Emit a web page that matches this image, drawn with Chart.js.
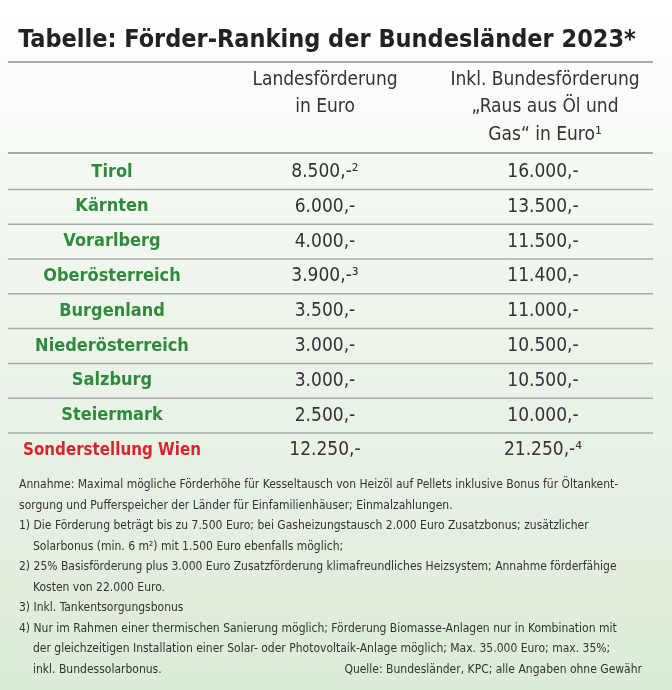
<!DOCTYPE html>
<html>
<head>
<meta charset="utf-8">
<script src="https://cdn.jsdelivr.net/npm/chart.js@4"></script>
<style>
  html, body { margin: 0; padding: 0; }
  body { width: 672px; height: 690px; background: linear-gradient(#ffffff 0%, #f3f8f1 30%, #dcebd8 100%); }
  #wrap { position: relative; width: 672px; height: 690px; }
</style>
</head>
<body>
<div id="wrap"><canvas id="canvas"></canvas></div>
<script>
const title = "Tabelle: Förder-Ranking der Bundesländer 2023*";
const headers1 = ["Landesförderung", "in Euro"];
const headers2 = ["Inkl. Bundesförderung", "\u201eRaus aus Öl und", "Gas\u201c in Euro\u00b9"];
const states = ["Tirol", "Kärnten", "Vorarlberg", "Oberösterreich", "Burgenland", "Niederösterreich", "Salzburg", "Steiermark", "Sonderstellung Wien"];
const landes = ["8.500,-\u00b2", "6.000,-", "4.000,-", "3.900,-\u00b3", "3.500,-", "3.000,-", "3.000,-", "2.500,-", "12.250,-"];
const inklBund = ["16.000,-", "13.500,-", "11.500,-", "11.400,-", "11.000,-", "10.500,-", "10.500,-", "10.000,-", "21.250,-\u2074"];
const notes = [
  ["Annahme: Maximal mögliche Förderhöhe für Kesseltausch von Heizöl auf Pellets inklusive Bonus für Öltankent-", 0],
  ["sorgung und Pufferspeicher der Länder für Einfamilienhäuser; Einmalzahlungen.", 0],
  ["1) Die Förderung beträgt bis zu 7.500 Euro; bei Gasheizungstausch 2.000 Euro Zusatzbonus; zusätzlicher", 0],
  ["Solarbonus (min. 6 m²) mit 1.500 Euro ebenfalls möglich;", 1],
  ["2) 25% Basisförderung plus 3.000 Euro Zusatzförderung klimafreundliches Heizsystem; Annahme förderfähige", 0],
  ["Kosten von 22.000 Euro.", 1],
  ["3) Inkl. Tankentsorgungsbonus", 0],
  ["4) Nur im Rahmen einer thermischen Sanierung möglich; Förderung Biomasse-Anlagen nur in Kombination mit", 0],
  ["der gleichzeitigen Installation einer Solar- oder Photovoltaik-Anlage möglich; Max. 35.000 Euro; max. 35%;", 1],
  ["inkl. Bundessolarbonus.", 1]
];
const source = "Quelle: Bundesländer, KPC; alle Angaben ohne Gewähr";

const NARROW = "'Liberation Sans Narrow', 'DejaVu Sans Condensed', sans-serif";

const tablePlugin = {
  id: 'table',
  afterDraw(chart) {
    const ctx = chart.ctx, x = chart.scales.x, y = chart.scales.y;
    const X = v => x.getPixelForValue(v), Y = v => y.getPixelForValue(v);
    ctx.save();
    ctx.textBaseline = 'middle';
    // title
    ctx.fillStyle = '#222';
    ctx.font = "bold 25px " + NARROW;
    ctx.textAlign = 'center';
    ctx.fillText(title, X(327), Y(40), 620);
    // rules
    const rule = (yy, w) => { ctx.strokeStyle = '#a9aaa9'; ctx.lineWidth = w; ctx.beginPath(); ctx.moveTo(X(8), Y(yy)); ctx.lineTo(X(653), Y(yy)); ctx.stroke(); };
    rule(62, 2);
    rule(153, 2);
    // headers
    ctx.font = "19px " + NARROW;
    ctx.fillStyle = '#333';
    headers1.forEach((t, i) => ctx.fillText(t, X(325), Y(80 + i * 27.5), 150));
    headers2.forEach((t, i) => ctx.fillText(t, X(545), Y(80 + i * 27.5), 195));
    // rows
    states.forEach((s, i) => {
      const cy = 172 + i * 34.8;
      const last = i === states.length - 1;
      ctx.font = "bold 18px " + NARROW;
      ctx.fillStyle = last ? '#d8262c' : '#2f8a3c';
      ctx.fillText(s, X(112), Y(cy), 178);
      ctx.font = "19px " + NARROW;
      ctx.fillStyle = '#333';
      ctx.fillText(landes[i], X(325), Y(cy));
      ctx.fillText(inklBund[i], X(543), Y(cy));
      if (!last) rule(cy + 17.4, 1.5);
    });
    // notes
    ctx.textAlign = 'left';
    ctx.font = "12px " + NARROW;
    ctx.fillStyle = '#333';
    notes.forEach((n, i) => ctx.fillText(n[0], X(n[1] ? 33 : 19), Y(485 + i * 20.5), 620));
    ctx.textAlign = 'right';
    ctx.fillText(source, X(642), Y(485 + 9 * 20.5));
    ctx.restore();
  }
};

new Chart(document.getElementById('canvas'), {
  type: 'scatter',
  data: { datasets: [{ data: [] }] },
  options: {
    responsive: true, maintainAspectRatio: false, animation: false,
    layout: { padding: 0 },
    plugins: { legend: { display: false }, tooltip: { enabled: false } },
    scales: {
      x: { type: 'linear', min: 0, max: 672, display: false },
      y: { type: 'linear', min: 0, max: 690, reverse: true, display: false }
    }
  },
  plugins: [tablePlugin]
});
</script>
</body>
</html>
